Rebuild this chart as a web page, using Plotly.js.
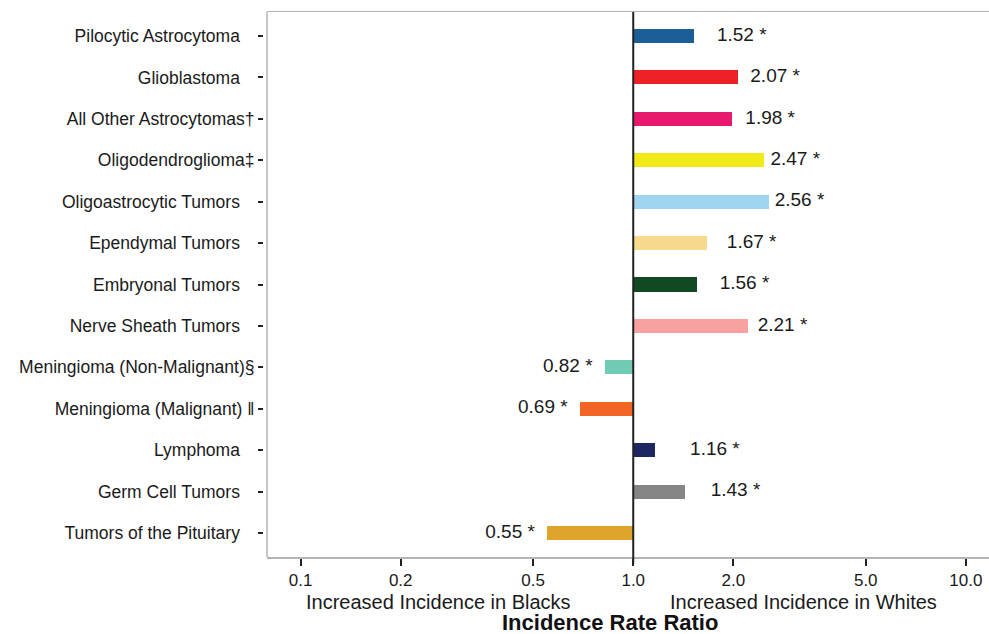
<!DOCTYPE html>
<html>
<head>
<meta charset="utf-8">
<script src="https://cdn.plot.ly/plotly-3.0.1.min.js"></script>
<style>html,body{margin:0;padding:0;background:#fff;}#chart{width:989px;height:634px;}</style>
</head>
<body>
<div id="chart"></div>
<script>
var categories = [
  "Pilocytic Astrocytoma",
  "Glioblastoma",
  "All Other Astrocytomas",
  "Oligodendroglioma",
  "Oligoastrocytic Tumors",
  "Ependymal Tumors",
  "Embryonal Tumors",
  "Nerve Sheath Tumors",
  "Meningioma (Non-Malignant)",
  "Meningioma (Malignant)",
  "Lymphoma",
  "Germ Cell Tumors",
  "Tumors of the Pituitary"
];
var footnoteMarks = ["", "", "\u2020", "\u2021", "", "", "", "", "\u00a7", " \u2016", "", "", ""];
var rateRatios = [1.52, 2.07, 1.98, 2.47, 2.56, 1.67, 1.56, 2.21, 0.82, 0.69, 1.16, 1.43, 0.55];
var significance = ["*", "*", "*", "*", "*", "*", "*", "*", "*", "*", "*", "*", "*"];
var barColors = ["#1b5e98", "#ee2226", "#e8186d", "#f2ea18", "#9fd4f1", "#f8da8e", "#124a24",
                 "#f8a1a1", "#6fcbb4", "#f26522", "#1f2762", "#858585", "#dea42b"];
var xTickVals = [0.1, 0.2, 0.5, 1, 2, 5, 10];
var xTickText = ["0.1", "0.2", "0.5", "1.0", "2.0", "5.0", "10.0"];
var sideLabels = ["Increased Incidence in Blacks", "Increased Incidence in Whites"];
var axisTitle = "Incidence Rate Ratio";

var font = "'Liberation Sans', Arial, Helvetica, sans-serif";
var pad = "\u00a0\u00a0\u00a0";
var tickLabels = categories.map(function (c, i) { return footnoteMarks[i] ? c + footnoteMarks[i] : c + pad; });
var idx = categories.map(function (c, i) { return i; });

var bars = {
  type: "bar", orientation: "h",
  y: idx, x: rateRatios.map(function (v) { return v - 1; }), base: 1,
  width: 0.34,
  marker: { color: barColors, line: { width: 0 } },
  hoverinfo: "skip", showlegend: false
};
var labels = {
  type: "scatter", mode: "text",
  y: idx,
  x: rateRatios.map(function (v) { return v > 1 ? v + 0.6 : v * 0.775; }),
  text: rateRatios.map(function (v, i) { return v.toFixed(2) + " " + significance[i]; }),
  textposition: "middle center",
  textfont: { family: font, size: 19, color: "#1a1a1a" },
  hoverinfo: "skip", showlegend: false, cliponaxis: false
};

var L = 260, W = 989 - L;
var layout = {
  width: 989, height: 634,
  margin: { l: L, r: 0, t: 12, b: 77 },
  paper_bgcolor: "#fff", plot_bgcolor: "#fff",
  font: { family: font, color: "#1a1a1a" },
  xaxis: {
    type: "log", range: [-1.101, 1.0695], domain: [7 / W, 1],
    tickvals: xTickVals, ticktext: xTickText,
    ticks: "outside", ticklen: 7, tickwidth: 2, tickcolor: "#222",
    showline: true, linecolor: "#b4b4b4", linewidth: 1.5, mirror: true,
    showgrid: false, zeroline: false,
    tickfont: { family: font, size: 17, color: "#1a1a1a" }
  },
  yaxis: {
    anchor: "free", position: 3 / W,
    range: [12.58, -0.58],
    tickvals: idx, ticktext: tickLabels,
    ticks: "outside", ticklen: 5, tickwidth: 2, tickcolor: "#222",
    showline: false, showgrid: false, zeroline: false,
    tickfont: { family: font, size: 17.5, color: "#1a1a1a" }
  },
  shapes: [
    { type: "line", xref: "paper", yref: "paper", x0: 7 / W, x1: 7 / W, y0: 0, y1: 1,
      line: { color: "#b4b4b4", width: 1.5 } },
    { type: "line", xref: "x", yref: "paper", x0: 1, x1: 1, y0: -0.012, y1: 1,
      line: { color: "#222", width: 2 } }
  ],
  annotations: [
    { xref: "paper", yref: "paper", x: (438 - L) / W, y: (557 - 602) / 545, text: sideLabels[0],
      showarrow: false, xanchor: "center", yanchor: "middle", font: { family: font, size: 20, color: "#1a1a1a" } },
    { xref: "paper", yref: "paper", x: (803.5 - L) / W, y: (557 - 602) / 545, text: sideLabels[1],
      showarrow: false, xanchor: "center", yanchor: "middle", font: { family: font, size: 20, color: "#1a1a1a" } },
    { xref: "paper", yref: "paper", x: (609.5 - L) / W, y: (557 - 622) / 545, text: "<b>" + axisTitle + "</b>",
      showarrow: false, xanchor: "center", yanchor: "middle", font: { family: font, size: 22, color: "#111" } }
  ],
  bargap: 0
};

Plotly.newPlot("chart", [bars, labels], layout, { displayModeBar: false, staticPlot: true });
</script>
</body>
</html>
